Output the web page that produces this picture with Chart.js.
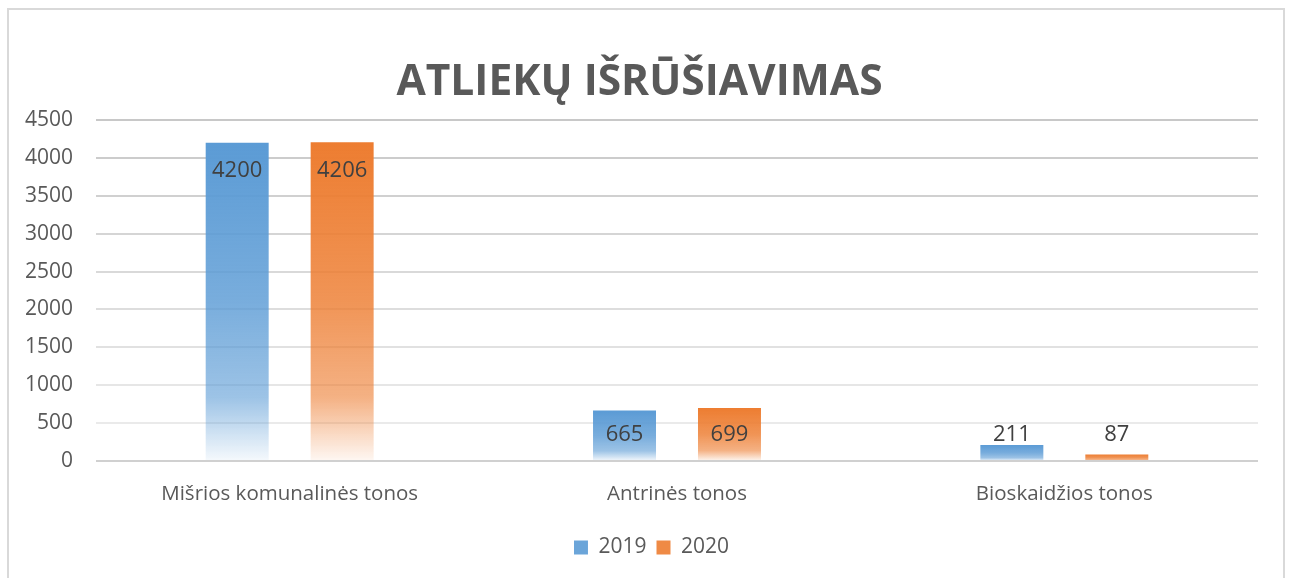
<!DOCTYPE html>
<html>
<head>
<meta charset="utf-8">
<script src="https://cdn.jsdelivr.net/npm/chart.js@4.4.1/dist/chart.umd.min.js"></script>
<style>
  html, body { margin: 0; padding: 0; background: #fff; }
  #wrap { position: relative; width: 1293px; height: 578px; }
  #frame {
    position: absolute; left: 7px; top: 8px; width: 1278px; height: 580px;
    border: 2px solid #d9d9d9; box-sizing: border-box; pointer-events: none;
  }
</style>
</head>
<body>
<div id="wrap">
  <canvas id="chart" width="1293" height="578"></canvas>
  <div id="frame"></div>
</div>
<script>
// Chart data
const categories = ['Mišrios komunalinės tonos', 'Antrinės tonos', 'Bioskaidžios tonos'];
const seriesNames = ['2019', '2020'];
const values2019 = [4200, 665, 211];
const values2020 = [4206, 699, 87];
const yMax = 4500;
const yStep = 500;

const FONT = "'Open Sans', sans-serif";
const TEXT = '#595959';
const BLUE = '91,155,213';
const ORANGE = '237,125,49';

// Vertical fade: solid at the bar top, almost white at the base
function barFill(rgb) {
  return (ctx) => {
    const chart = ctx.chart;
    if (!chart.chartArea || ctx.type !== 'data') return `rgb(${rgb})`;
    const y = chart.scales.y;
    const top = y.getPixelForValue(ctx.raw);
    const base = y.getPixelForValue(0);
    const g = chart.ctx.createLinearGradient(0, top, 0, base);
    g.addColorStop(0, `rgba(${rgb},1)`);
    g.addColorStop(0.5, `rgba(${rgb},0.82)`);
    g.addColorStop(0.8, `rgba(${rgb},0.6)`);
    g.addColorStop(1, `rgba(${rgb},0.06)`);
    return g;
  };
}

// Value labels, inside the top of tall bars, above short ones
const valueLabels = {
  id: 'valueLabels',
  afterDatasetsDraw(chart) {
    const { ctx } = chart;
    const base = chart.scales.y.getPixelForValue(0);
    ctx.save();
    ctx.font = `22px ${FONT}`;
    ctx.fillStyle = '#404040';
    ctx.textAlign = 'center';
    ctx.textBaseline = 'middle';
    chart.data.datasets.forEach((ds, i) => {
      chart.getDatasetMeta(i).data.forEach((bar, j) => {
        const y = Math.min(bar.y + 28, base - 26);
        ctx.fillText(String(ds.data[j]), bar.x, y);
      });
    });
    ctx.restore();
  }
};

// legend sits a little right of the title in the original
const legendNudge = {
  id: 'legendNudge',
  afterLayout(chart) {
    chart.legend.left += 12;
    chart.legend.right += 12;
  }
};

function gridColor(ctx) {
  const v = ctx.tick ? ctx.tick.value : 0;
  if (v === 0) return '#d0d0d0';
  const t = v / yMax;
  const c = Math.round(238 - t * 38);
  return `rgb(${c},${c},${c})`;
}

const legendColors = [BLUE, ORANGE];

new Chart(document.getElementById('chart'), {
  type: 'bar',
  data: {
    labels: categories,
    datasets: [
      { label: seriesNames[0], data: values2019, backgroundColor: barFill(BLUE) },
      { label: seriesNames[1], data: values2020, backgroundColor: barFill(ORANGE) }
    ]
  },
  options: {
    responsive: false,
    animation: false,
    events: [],
    layout: { padding: { left: 21, right: 35, top: 0, bottom: 10 } },
    datasets: {
      bar: { categoryPercentage: 0.542, barPercentage: 0.6 }
    },
    scales: {
      x: {
        grid: { display: false, drawTicks: false },
        border: { display: false },
        ticks: { color: TEXT, font: { family: FONT, size: 20.5 }, padding: 21 },
        afterFit(scale) { scale.height = 66; }
      },
      y: {
        min: 0,
        max: yMax,
        grid: { color: gridColor, lineWidth: 2, drawTicks: false },
        border: { display: false },
        ticks: {
          stepSize: yStep,
          color: TEXT,
          font: { family: FONT, size: 21 },
          padding: 23,
          callback: (v) => String(v)
        },
        afterFit(scale) { scale.width = 75; }
      }
    },
    plugins: {
      title: {
        display: true,
        text: 'ATLIEKŲ IŠRŪŠIAVIMAS',
        color: TEXT,
        font: { family: FONT, size: 42.5, weight: 'bold', lineHeight: 1.2 },
        padding: { top: 57, bottom: 12 }
      },
      legend: {
        position: 'bottom',
        labels: {
          color: TEXT,
          font: { family: FONT, size: 21 },
          boxWidth: 14,
          boxHeight: 14,
          padding: 10,
          generateLabels(chart) {
            return Chart.defaults.plugins.legend.labels.generateLabels(chart).map((item, i) => {
              item.fillStyle = `rgba(${legendColors[i]},0.9)`;
              item.strokeStyle = 'transparent';
              item.lineWidth = 0;
              return item;
            });
          }
        }
      },
      tooltip: { enabled: false }
    }
  },
  plugins: [valueLabels, legendNudge]
});
</script>
</body>
</html>
